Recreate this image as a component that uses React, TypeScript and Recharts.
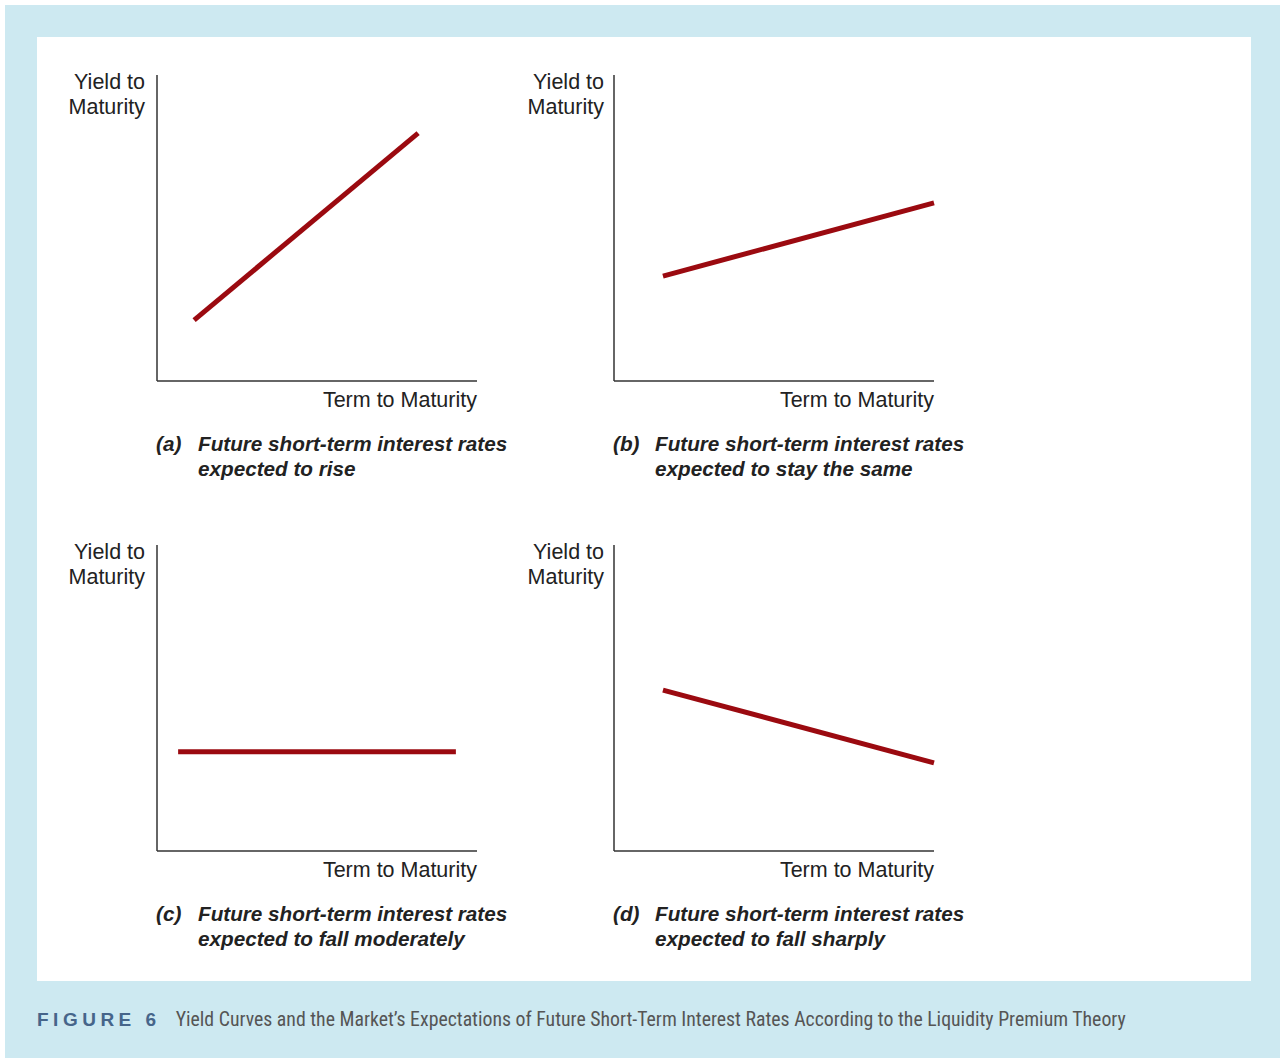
import React from "react";
import { LineChart, Line, XAxis, YAxis } from "recharts";

const panelIds = ["a", "b", "c", "d"];
const captionLine1 = [
  "Future short-term interest rates",
  "Future short-term interest rates",
  "Future short-term interest rates",
  "Future short-term interest rates",
];
const captionLine2 = [
  "expected to rise",
  "expected to stay the same",
  "expected to fall moderately",
  "expected to fall sharply",
];
const termValues = [
  [11.6, 81.6],
  [15.3, 100],
  [6.6, 93.4],
  [15.3, 100],
];
const yieldValues = [
  [19.9, 81.0],
  [34.3, 58.2],
  [32.4, 32.4],
  [52.6, 28.8],
];
const yLabel = ["Yield to", "Maturity"];
const xLabel = "Term to Maturity";
const figureNumber = "FIGURE 6";
const figureTitle =
  "Yield Curves and the Market\u2019s Expectations of Future Short-Term Interest Rates According to the Liquidity Premium Theory";

const panelPos = [
  { left: 157, top: 75, labelGap: 12 },
  { left: 614, top: 75, labelGap: 10 },
  { left: 157, top: 545, labelGap: 12 },
  { left: 614, top: 545, labelGap: 10 },
];

const PW = 320;
const PH = 306;
const M = 6;
const FONT = "'Liberation Sans', Arial, Helvetica, sans-serif";

function Panel({ i }: { i: number }) {
  const data = termValues[i].map((t, k) => ({ term: t, y: yieldValues[i][k] }));
  const { left, top, labelGap } = panelPos[i];
  return (
    <>
      <div style={{ position: "absolute", left: left - M, top: top - M }}>
        <LineChart
          width={PW + 2 * M}
          height={PH + 2 * M}
          data={data}
          margin={{ top: M, right: M, bottom: M - 1, left: M - 1 }}
        >
          <XAxis
            dataKey="term"
            type="number"
            domain={[0, 100]}
            height={1}
            tick={false}
            tickLine={false}
            axisLine={{ stroke: "#333", strokeWidth: 1.5 }}
          />
          <YAxis
            type="number"
            domain={[0, 100]}
            width={1}
            tick={false}
            tickLine={false}
            axisLine={{ stroke: "#333", strokeWidth: 1.5 }}
          />
          <Line
            dataKey="y"
            stroke="#9b0a10"
            strokeWidth={5}
            dot={false}
            activeDot={false}
            isAnimationActive={false}
            type="linear"
          />
        </LineChart>
      </div>
      <div
        style={{
          position: "absolute",
          left: left - labelGap - 138,
          width: 138,
          top: top - 5,
          textAlign: "right",
          fontFamily: FONT,
          fontSize: 21.5,
          lineHeight: "25px",
          color: "#222",
        }}
      >
        {yLabel[0]}
        <br />
        {yLabel[1]}
      </div>
      <div
        style={{
          position: "absolute",
          left: left,
          width: PW,
          top: top + PH + 7,
          textAlign: "right",
          fontFamily: FONT,
          fontSize: 21.5,
          lineHeight: "25px",
          color: "#222",
        }}
      >
        {xLabel}
      </div>
      <div
        style={{
          position: "absolute",
          left: left - 1,
          top: top + PH + 50,
          fontFamily: FONT,
          fontSize: 20.7,
          fontStyle: "italic",
          fontWeight: "bold",
          lineHeight: "25px",
          color: "#222",
          whiteSpace: "nowrap",
          display: "flex",
        }}
      >
        <span style={{ width: 42 }}>({panelIds[i]})</span>
        <span>
          {captionLine1[i]}
          <br />
          {captionLine2[i]}
        </span>
      </div>
    </>
  );
}

export default function App() {
  return (
    <div
      style={{
        position: "absolute",
        left: 0,
        top: 0,
        width: 1284,
        height: 1061,
        background: "#ffffff",
      }}
    >
      <div
        style={{
          position: "absolute",
          left: 5,
          top: 5,
          width: 1275,
          height: 1053,
          background: "#cde9f1",
        }}
      />
      <div
        style={{
          position: "absolute",
          left: 37,
          top: 37,
          width: 1214,
          height: 944,
          background: "#ffffff",
        }}
      />
      {[0, 1, 2, 3].map((i) => (
        <Panel key={i} i={i} />
      ))}
      <div
        style={{
          position: "absolute",
          left: 37,
          top: 1008,
          fontFamily: FONT,
          fontSize: 19,
          lineHeight: "24px",
          whiteSpace: "nowrap",
        }}
      >
        <span style={{ fontWeight: "bold", color: "#46658a", letterSpacing: 4.5 }}>
          {figureNumber}
        </span>
        <span
          style={{
            fontFamily: "'Liberation Sans Narrow', 'Roboto Condensed', 'Liberation Sans', sans-serif",
            fontSize: 19.8,
            color: "#555",
            marginLeft: 15,
          }}
        >
          {figureTitle}
        </span>
      </div>
    </div>
  );
}
